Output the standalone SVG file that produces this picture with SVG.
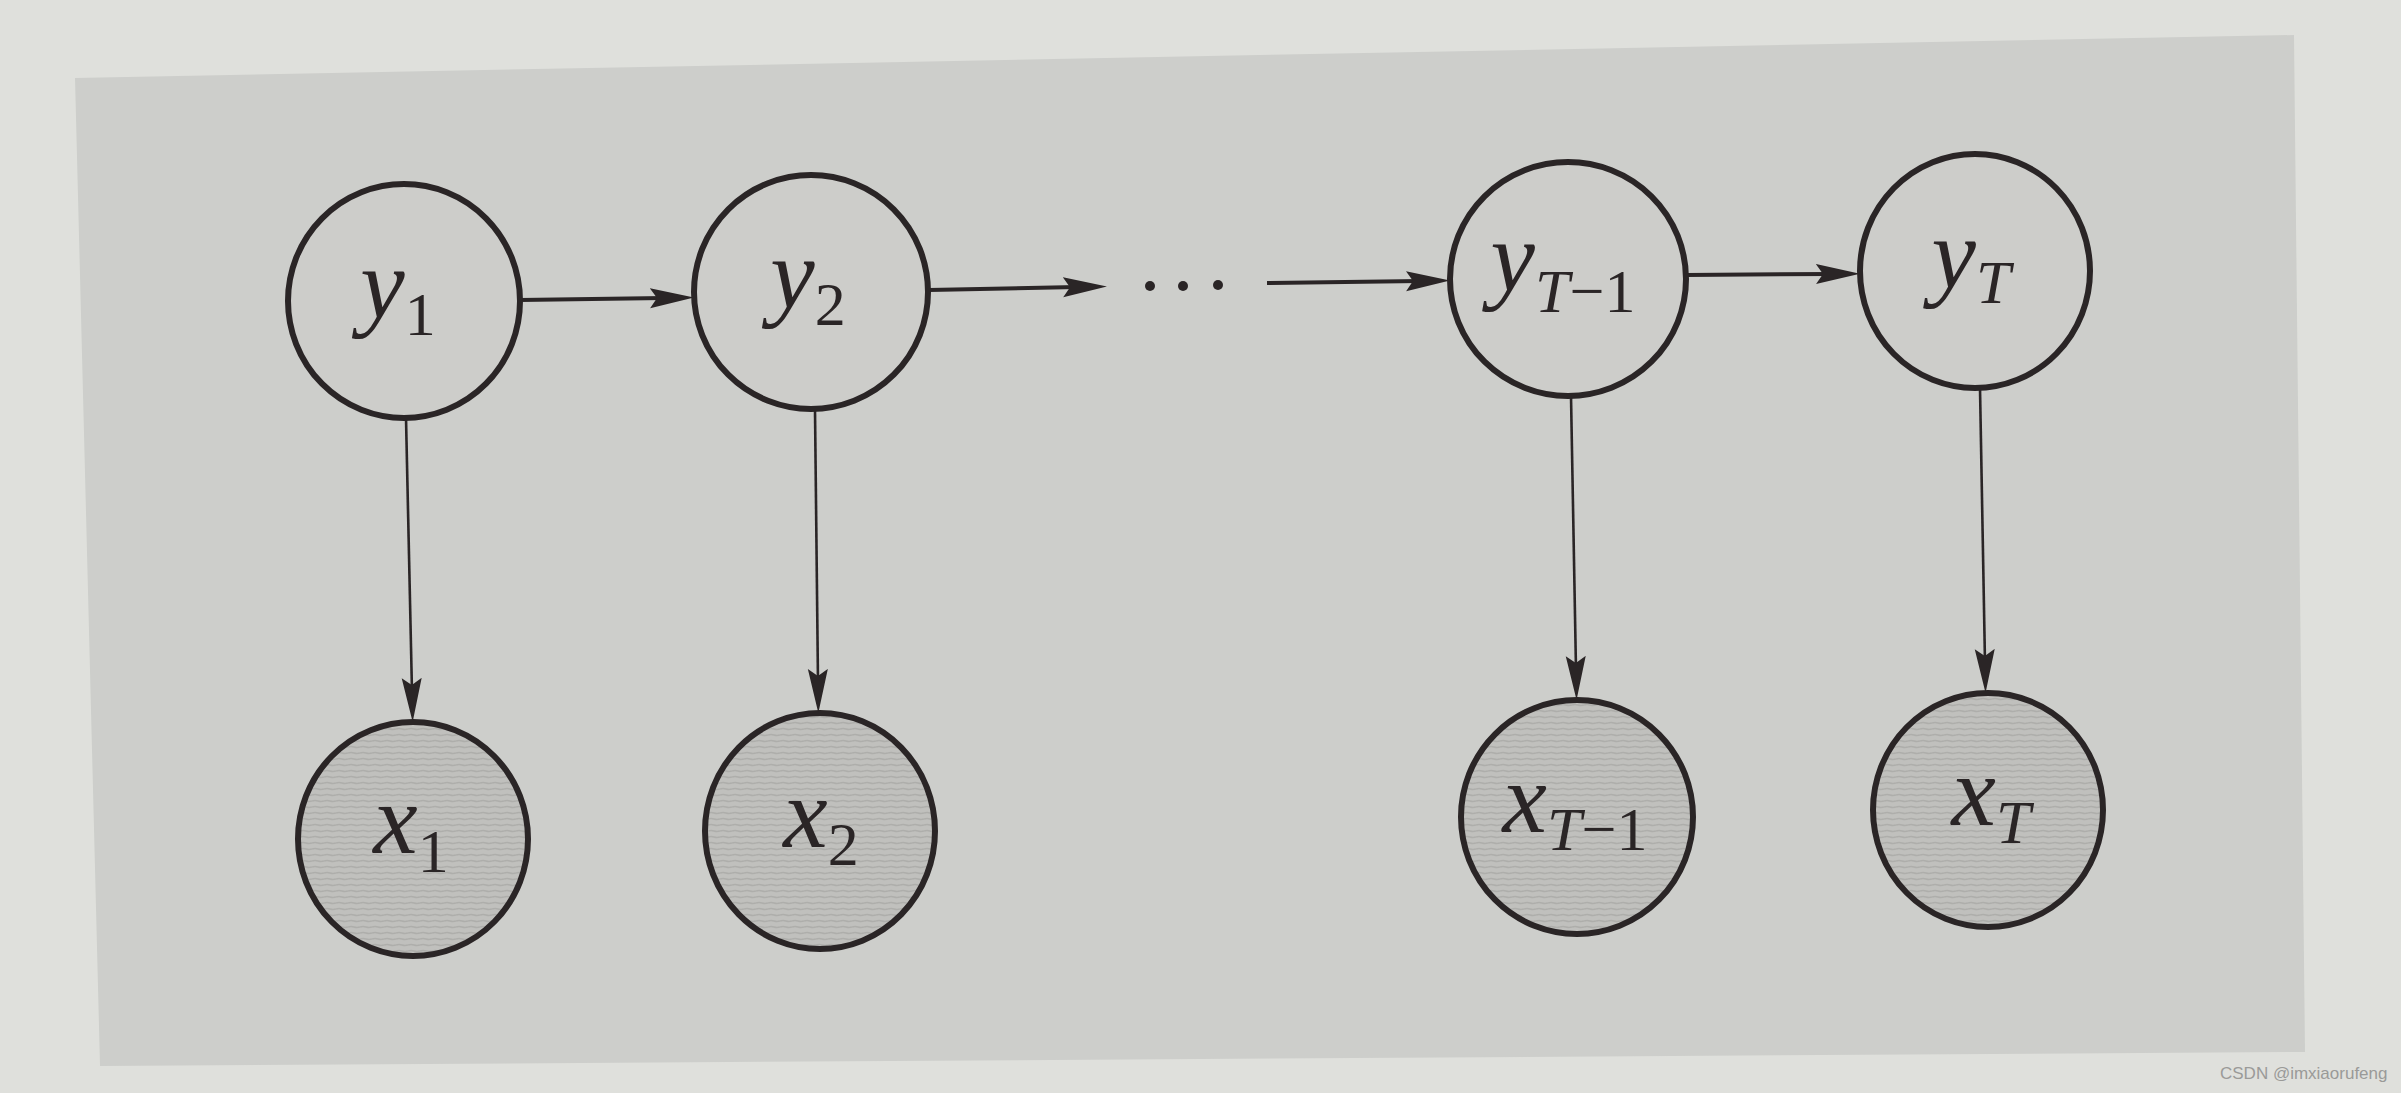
<svg xmlns="http://www.w3.org/2000/svg" width="2401" height="1093" viewBox="0 0 2401 1093">
  <style>
    .node { stroke: #2a2526; stroke-width: 6; }
    .latent { fill: #cdcdca; }
    .obs { fill: url(#hatch); }
    .edge { fill: none; stroke: #2a2526; }
    .h { stroke-width: 4; }
    .v { stroke-width: 2.6; }
    .lbl { font-family: "Liberation Serif", "Times New Roman", serif; font-size: 100px; fill: #2a2526; }
    .var { font-style: italic; }
    .sub { font-size: 62px; }
    .wm { font-family: "Liberation Sans", Arial, sans-serif; font-size: 17px; fill: #9a9a98; }
  </style>
  <defs>
    <pattern id="hatch" patternUnits="userSpaceOnUse" width="12" height="6">
      <rect width="12" height="6" fill="#c0c0bd"/>
      <path d="M0,3 Q3,2 6,3 T12,3" fill="none" stroke="#aeaeab" stroke-width="1.4"/>
    </pattern>
    <marker id="arr" markerUnits="userSpaceOnUse" markerWidth="50" markerHeight="26" viewBox="0 -13 50 26" refX="14" refY="0" orient="auto">
      <path d="M0,-10 L44,0 L0,10 L7,0 Z" fill="#2a2526"/>
    </marker>
  </defs>

  <rect x="0" y="0" width="2401" height="1093" fill="#dfe0dc"/>
  <polygon points="75,78 2294,35 2305,1052 100,1066" fill="#cdcecb"/>

  <g id="connectors">
    <line class="edge h" x1="520" y1="300" x2="664" y2="298" marker-end="url(#arr)"/>
    <line class="edge h" x1="929" y1="290" x2="1077" y2="287" marker-end="url(#arr)"/>
    <line class="edge h" x1="1267" y1="283" x2="1420" y2="281" marker-end="url(#arr)"/>
    <line class="edge h" x1="1686" y1="275" x2="1830" y2="274" marker-end="url(#arr)"/>
    <line class="edge v" x1="406" y1="418" x2="412" y2="692" marker-end="url(#arr)"/>
    <line class="edge v" x1="815" y1="410" x2="818" y2="683" marker-end="url(#arr)"/>
    <line class="edge v" x1="1571" y1="396" x2="1576" y2="670" marker-end="url(#arr)"/>
    <line class="edge v" x1="1980" y1="388" x2="1985" y2="663" marker-end="url(#arr)"/>
  </g>

  <g id="ellipsis">
    <circle cx="1150" cy="286" r="5" fill="#2a2526"/>
    <circle cx="1183" cy="286" r="5" fill="#2a2526"/>
    <circle cx="1218" cy="285" r="5" fill="#2a2526"/>
  </g>

  <g id="y1">
    <ellipse class="node latent" cx="404" cy="301" rx="116" ry="117"/>
    <text class="lbl" x="398" y="318" text-anchor="middle"><tspan class="var">y</tspan><tspan class="sub" dy="17">1</tspan></text>
  </g>
  <g id="y2">
    <ellipse class="node latent" cx="811" cy="292" rx="117" ry="117"/>
    <text class="lbl" x="808" y="308" text-anchor="middle"><tspan class="var">y</tspan><tspan class="sub" dy="17">2</tspan></text>
  </g>
  <g id="yT-1">
    <ellipse class="node latent" cx="1568" cy="279" rx="118" ry="117"/>
    <text class="lbl" x="1563" y="291" text-anchor="middle"><tspan class="var">y</tspan><tspan class="sub" dy="21"><tspan class="var">T</tspan>−1</tspan></text>
  </g>
  <g id="yT">
    <ellipse class="node latent" cx="1975" cy="271" rx="115" ry="117"/>
    <text class="lbl" x="1971" y="288" text-anchor="middle"><tspan class="var">y</tspan><tspan class="sub var" dy="15">T</tspan></text>
  </g>
  <g id="x1">
    <ellipse class="node obs" cx="413" cy="839" rx="115" ry="117"/>
    <text class="lbl" x="411" y="853" text-anchor="middle"><tspan class="var">x</tspan><tspan class="sub" dy="19">1</tspan></text>
  </g>
  <g id="x2">
    <ellipse class="node obs" cx="820" cy="831" rx="115" ry="118"/>
    <text class="lbl" x="821" y="847" text-anchor="middle"><tspan class="var">x</tspan><tspan class="sub" dy="18">2</tspan></text>
  </g>
  <g id="xT-1">
    <ellipse class="node obs" cx="1577" cy="817" rx="116" ry="117"/>
    <text class="lbl" x="1575" y="832" text-anchor="middle"><tspan class="var">x</tspan><tspan class="sub" dy="18"><tspan class="var">T</tspan>−1</tspan></text>
  </g>
  <g id="xT">
    <ellipse class="node obs" cx="1988" cy="810" rx="115" ry="117"/>
    <text class="lbl" x="1991" y="825" text-anchor="middle"><tspan class="var">x</tspan><tspan class="sub var" dy="18">T</tspan></text>
  </g>

  <text class="wm" x="2220" y="1079">CSDN @imxiaorufeng</text>
</svg>
